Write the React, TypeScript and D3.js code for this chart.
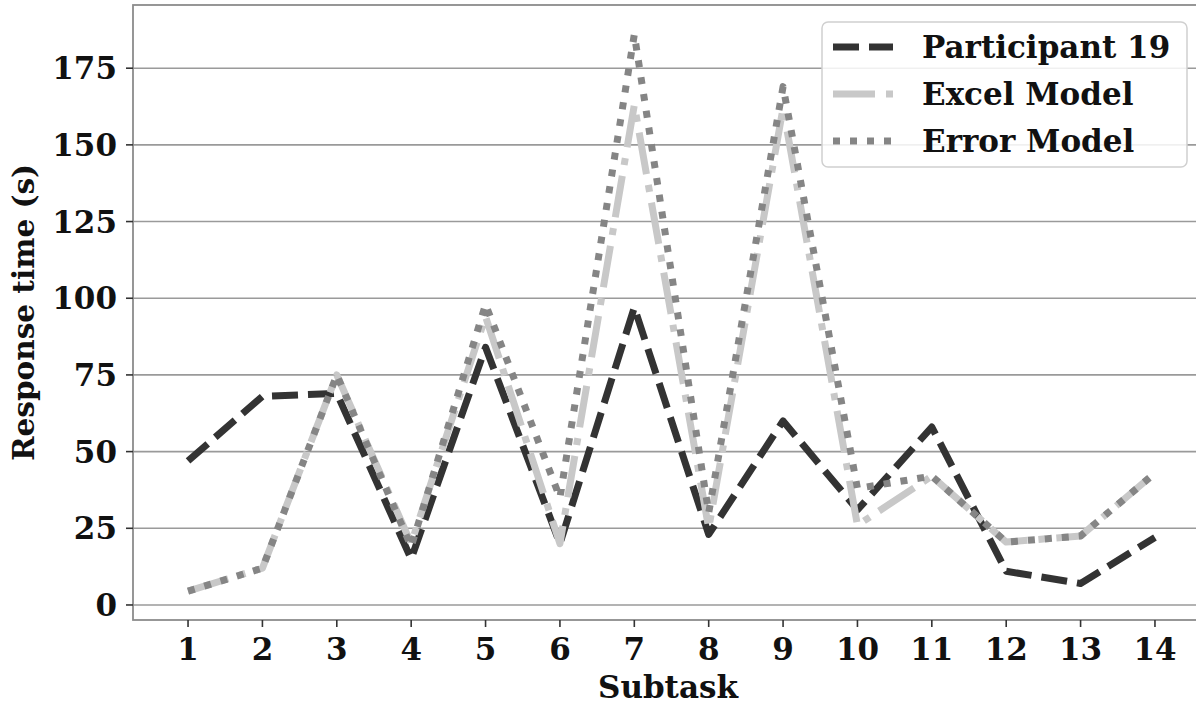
import React from "react";
import * as d3 from "d3";

const subtasks = [1, 2, 3, 4, 5, 6, 7, 8, 9, 10, 11, 12, 13, 14];
const participant19 = [47, 68, 69, 15, 84, 20, 97, 23, 60, 31, 58, 11, 7, 22];
const excelModel = [4.5, 12, 75, 20, 94, 20, 163, 25, 162, 26, 42, 20.5, 22.5, 43];
const errorModel = [4.5, 12, 75, 19, 98, 35, 186, 30, 169, 38, 42, 20.5, 22.5, 43];
const yTicks = [0, 25, 50, 75, 100, 125, 150, 175];
const seriesNames = ["Participant 19", "Excel Model", "Error Model"];

const W = 1196;
const H = 704;
const FONT = "'DejaVu Serif', serif";

export default function App() {
  const x = d3.scaleLinear().domain([0.26, 14.74]).range([133, 1210]);
  const y = d3.scaleLinear().domain([-4.9, 195.6]).range([620, 5]);
  const [x0, x1] = x.range();
  const [yb, yt] = y.range();

  const line = d3
    .line<number>()
    .x((_, i) => x(subtasks[i]))
    .y((d) => y(d));

  const series = [
    { name: seriesNames[0], values: participant19, color: "#333333", dash: "26 10", width: 7 },
    { name: seriesNames[1], values: excelModel, color: "#c8c8c8", dash: "42 11 7 11", width: 7 },
    { name: seriesNames[2], values: errorModel, color: "#858585", dash: "7 10", width: 7 },
  ];

  const lg = { x: 822, y: 22, w: 365, h: 145 };

  return (
    <div style={{ position: "absolute", left: 0, top: 0 }}>
      <svg width={W} height={H} style={{ display: "block", background: "#fff" }} fontFamily={FONT}>
        <rect x={0} y={0} width={W} height={H} fill="#fff" />
        {/* grid */}
        {yTicks.map((t) => (
          <line key={"g" + t} x1={x0} x2={x1} y1={y(t)} y2={y(t)} stroke="#9a9a9a" strokeWidth={1.6} />
        ))}
        {/* frame */}
        <rect x={x0} y={yt} width={x1 - x0} height={yb - yt} fill="none" stroke="#8c8c8c" strokeWidth={1.8} />
        {/* y ticks */}
        {yTicks.map((t) => (
          <g key={"yt" + t}>
            <line x1={x0 - 7} x2={x0} y1={y(t)} y2={y(t)} stroke="#333" strokeWidth={1.6} />
            <text x={x0 - 16} y={y(t)} dy="0.36em" textAnchor="end" fontSize={31} fontWeight="bold" fill="#111">
              {t}
            </text>
          </g>
        ))}
        {/* x ticks */}
        {subtasks.map((s) => (
          <g key={"xt" + s}>
            <line x1={x(s)} x2={x(s)} y1={yb} y2={yb + 7} stroke="#333" strokeWidth={1.6} />
            <text x={x(s)} y={660} textAnchor="middle" fontSize={31} fontWeight="bold" fill="#111">
              {s}
            </text>
          </g>
        ))}
        {/* axis labels */}
        <text x={668} y={698} textAnchor="middle" fontSize={31} fontWeight="bold" fill="#111">
          Subtask
        </text>
        <text
          transform={`translate(34,${(yb + yt) / 2}) rotate(-90)`}
          textAnchor="middle"
          fontSize={29.5}
          fontWeight="bold"
          fill="#111"
        >
          Response time (s)
        </text>
        {/* lines */}
        {series.map((s) => (
          <path
            key={s.name}
            d={line(s.values) || ""}
            fill="none"
            stroke={s.color}
            strokeWidth={s.width}
            strokeDasharray={s.dash}
            strokeLinejoin="round"
            strokeLinecap="butt"
          />
        ))}
        {/* legend */}
        <rect x={lg.x} y={lg.y} width={lg.w} height={lg.h} rx={6} fill="#fff" fillOpacity={0.85} stroke="#d0d0d0" strokeWidth={1.5} />
        {series.map((s, i) => {
          const cy = 47 + i * 47;
          return (
            <g key={"lg" + s.name}>
              <line x1={833} x2={893} y1={cy} y2={cy} stroke={s.color} strokeWidth={s.width} strokeDasharray={s.dash} />
              <text x={922} y={cy} dy="0.36em" fontSize={31} fontWeight="bold" fill="#111">
                {s.name}
              </text>
            </g>
          );
        })}
      </svg>
    </div>
  );
}
